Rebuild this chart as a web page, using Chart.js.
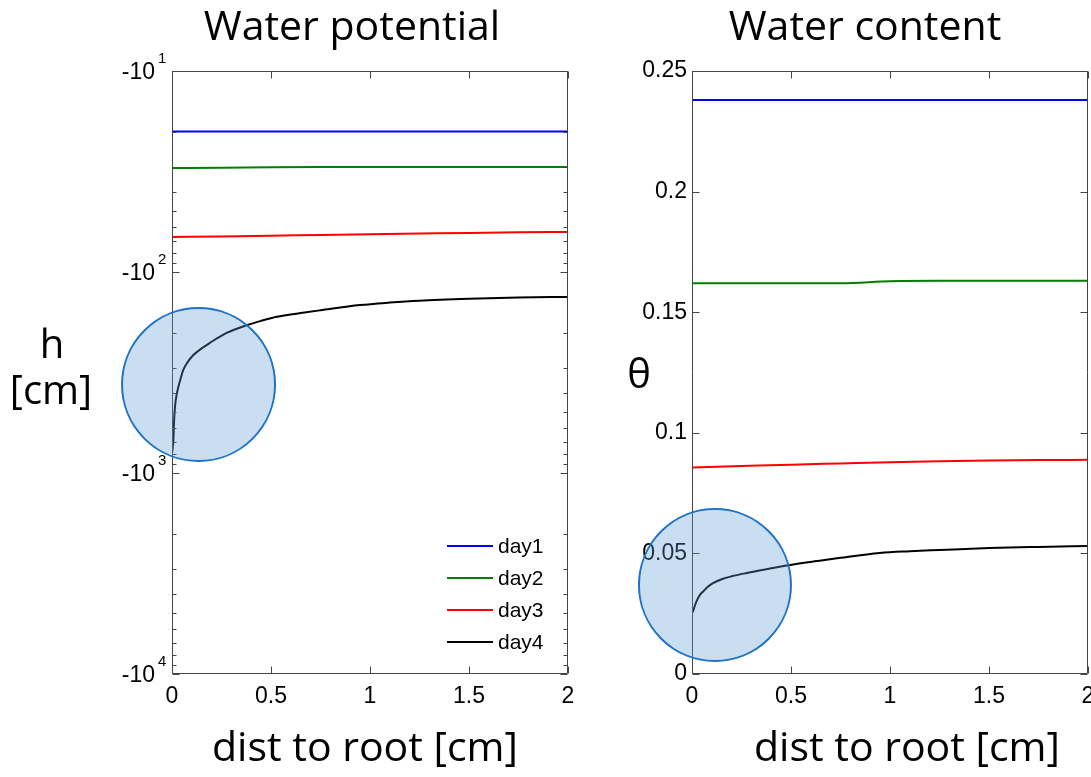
<!DOCTYPE html>
<html>
<head>
<meta charset="utf-8">
<title>Water potential / Water content</title>
<script src="https://cdn.jsdelivr.net/npm/chart.js@4.4.0/dist/chart.umd.min.js"></script>
<style>
  html, body { margin: 0; padding: 0; background: #fff; overflow: hidden; }
  #wrap { position: relative; width: 1091px; height: 777px; overflow: hidden; }
  .panel { position: absolute; top: 0; height: 777px; }
  #left { left: 0; width: 580px; }
  #right { left: 580px; width: 520px; }
</style>
</head>
<body>
<div id="wrap">
  <div class="panel" id="left"><canvas id="potential" width="580" height="777"></canvas></div>
  <div class="panel" id="right"><canvas id="content" width="520" height="777"></canvas></div>
</div>
<script>
// series names / colours
const dayLabels = ['day1', 'day2', 'day3', 'day4'];
const dayColors = ['#0000ff', '#008000', '#ff0000', '#000000'];

// distance to root [cm] for the flat profiles
const distFlat = [0, 0.25, 0.5, 0.75, 1, 1.25, 1.5, 1.75, 2];

// pressure head h [cm]
const hDay1 = [-20, -20, -20, -20, -20, -20, -20, -20, -20];
const hDay2 = [-30.4, -30.3, -30.1, -30, -30, -30, -30, -30, -30];
const hDay3 = [-67, -66.5, -66, -65.4, -64.9, -64.4, -63.9, -63.5, -63.2];
const distH4 = [0, 0.004, 0.007, 0.01, 0.015, 0.022, 0.032, 0.045, 0.057, 0.08, 0.108, 0.15, 0.192, 0.276, 0.377, 0.45, 0.53, 0.65, 0.75, 0.95, 1.1, 1.25, 1.5, 1.75, 2];
const hDay4 = [-800, -740, -685, -565, -470, -415, -373, -335, -307, -280, -259, -240, -225, -201, -184, -175, -167, -160, -155, -146, -142, -139, -136, -134, -133];

// volumetric water content theta [-]
const thetaDay1 = [0.238, 0.238, 0.238, 0.238, 0.238, 0.238, 0.238, 0.238, 0.238];
const thetaDay2 = [0.162, 0.162, 0.162, 0.162, 0.1628, 0.163, 0.163, 0.163, 0.163];
const thetaDay3 = [0.0856, 0.0862, 0.0868, 0.0873, 0.0878, 0.0882, 0.0885, 0.0887, 0.0888];
const distTheta4 = [0, 0.006, 0.015, 0.025, 0.04, 0.06, 0.08, 0.106, 0.15, 0.2, 0.278, 0.38, 0.495, 0.62, 0.75, 0.949, 1.1, 1.25, 1.5, 1.75, 2];
const thetaDay4 = [0.0253, 0.0262, 0.0285, 0.0305, 0.0328, 0.0345, 0.0362, 0.0377, 0.0393, 0.0405, 0.0419, 0.0435, 0.0452, 0.0467, 0.0482, 0.0502, 0.0509, 0.0514, 0.0522, 0.0527, 0.0531];

// tick positions
const distTicks = [0, 0.5, 1, 1.5, 2];
const headDecades = [1, 2, 3, 4];

Chart.defaults.font.family = '"Liberation Sans", Arial, sans-serif';
Chart.defaults.color = '#000';

const TEXT_FONT = '"Open Sans", "Noto Sans", sans-serif';
const TICK_FONT = '"Liberation Sans", Arial, sans-serif';

function series(xs, ys, i, magnitude) {
  return {
    label: dayLabels[i],
    data: xs.map((x, k) => ({ x, y: magnitude ? Math.abs(ys[k]) : ys[k] })),
    borderColor: dayColors[i],
    backgroundColor: dayColors[i],
    borderWidth: 2,
    pointRadius: 0,
    cubicInterpolationMode: 'monotone',
    fill: false
  };
}

// box around the plot with inward ticks on all four sides
const frame = {
  id: 'frame',
  afterDatasetsDraw(chart) {
    const { ctx, chartArea: a, scales: { x, y } } = chart;
    const L = Math.round(a.left) + 0.5, R = Math.round(a.right) - 0.5;
    const T = Math.round(a.top) + 0.5, B = Math.round(a.bottom) - 0.5;
    ctx.save();
    ctx.strokeStyle = '#444';
    ctx.lineWidth = 1;
    ctx.beginPath();
    ctx.rect(L, T, R - L, B - T);

    x.ticks.forEach(t => {
      const px = Math.round(x.getPixelForValue(t.value)) + 0.5;
      ctx.moveTo(px, B); ctx.lineTo(px, B - 7);
      ctx.moveTo(px, T); ctx.lineTo(px, T + 7);
    });

    const yTicks = [];
    if (y.type === 'logarithmic') {
      const lo = Math.round(Math.log10(y.min)), hi = Math.round(Math.log10(y.max));
      for (let e = lo; e <= hi; e++) {
        for (let k = 1; k <= 9; k++) {
          const v = k * Math.pow(10, e);
          if (v > y.max * 1.0001) break;
          yTicks.push({ v, major: k === 1 });
        }
      }
    } else {
      y.ticks.forEach(t => yTicks.push({ v: t.value, major: true }));
    }
    yTicks.forEach(t => {
      const py = Math.round(y.getPixelForValue(t.v)) + 0.5;
      const len = t.major ? 7 : 4;
      ctx.moveTo(L, py); ctx.lineTo(L + len, py);
      ctx.moveTo(R, py); ctx.lineTo(R - len, py);
    });
    ctx.stroke();

    // -10^n labels with a raised exponent for the log axis
    if (y.type === 'logarithmic') {
      ctx.fillStyle = '#000';
      ctx.textBaseline = 'alphabetic';
      y.ticks.forEach(t => {
        const py = y.getPixelForValue(t.value);
        const e = Math.round(Math.log10(t.value));
        ctx.font = '23px ' + TICK_FONT;
        ctx.textAlign = 'right';
        ctx.fillText('-10', a.left - 17, py + 8);
        ctx.font = '15px ' + TICK_FONT;
        ctx.textAlign = 'left';
        ctx.fillText(String(e), a.left - 14, py - 8);
      });
    }
    ctx.restore();
  }
};

// legend, highlight circle and panel texts
const overlay = {
  id: 'overlay',
  afterDraw(chart, args, opts) {
    const { ctx, chartArea: a, scales: { x, y } } = chart;
    ctx.save();

    if (opts.legend) {
      ctx.font = '21px ' + TICK_FONT;
      ctx.textBaseline = 'middle';
      ctx.textAlign = 'left';
      chart.data.datasets.forEach((ds, i) => {
        const ly = a.bottom - 128 + i * 32;
        ctx.strokeStyle = ds.borderColor;
        ctx.lineWidth = 2;
        ctx.beginPath();
        ctx.moveTo(a.right - 121, ly);
        ctx.lineTo(a.right - 75, ly);
        ctx.stroke();
        ctx.fillStyle = '#000';
        ctx.fillText(ds.label, a.right - 70, ly + 1);
      });
    }

    if (opts.circle) {
      const cx = x.getPixelForValue(opts.circle.x);
      const cy = y.getPixelForValue(opts.circle.y);
      ctx.beginPath();
      ctx.arc(cx, cy, opts.circle.r, 0, Math.PI * 2);
      ctx.fillStyle = 'rgba(91, 155, 213, 0.33)';
      ctx.fill();
      ctx.strokeStyle = '#1f72c6';
      ctx.lineWidth = 2;
      ctx.stroke();
    }

    ctx.fillStyle = '#000';
    ctx.textAlign = 'center';
    ctx.textBaseline = 'alphabetic';
    ctx.font = '41px ' + TEXT_FONT;
    ctx.fillText(opts.title, opts.titleX, 40);
    ctx.fillText(opts.xTitle, opts.xTitleX, 761);
    opts.yTitle.forEach(line => {
      ctx.font = line.size + 'px ' + TEXT_FONT;
      ctx.fillText(line.text, line.x, line.y);
    });
    ctx.restore();
  }
};

function axisX(pad) {
  return {
    type: 'linear',
    min: 0,
    max: 2,
    afterBuildTicks: s => { s.ticks = distTicks.map(v => ({ value: v })); },
    afterFit: s => { s.height = 103; s.paddingLeft = 0; s.paddingRight = 0; },
    grid: { display: false, drawTicks: false },
    border: { display: false },
    ticks: { padding: pad, font: { size: 23 }, autoSkip: false, maxRotation: 0, callback: v => String(v) }
  };
}

new Chart(document.getElementById('potential'), {
  type: 'line',
  data: {
    datasets: [
      series(distFlat, hDay1, 0, true),
      series(distFlat, hDay2, 1, true),
      series(distFlat, hDay3, 2, true),
      series(distH4, hDay4, 3, true)
    ]
  },
  options: {
    responsive: false,
    animation: false,
    devicePixelRatio: 1,
    layout: { padding: { top: 71, right: 12, bottom: 0, left: 0 } },
    plugins: {
      legend: { display: false },
      tooltip: { enabled: false },
      overlay: {
        legend: true,
        circle: { x: 0.134, y: 363, r: 76.5 },
        title: 'Water potential', titleX: 352,
        xTitle: 'dist to root [cm]', xTitleX: 365,
        yTitle: [
          { text: 'h', x: 52, y: 358, size: 40 },
          { text: '[cm]', x: 51, y: 404, size: 40 }
        ]
      }
    },
    scales: {
      x: axisX(9),
      y: {
        type: 'logarithmic',
        reverse: true,
        min: 10,
        max: 10000,
        afterBuildTicks: s => { s.ticks = headDecades.map(e => ({ value: Math.pow(10, e), major: true })); },
        afterFit: s => { s.width = 172; },
        grid: { display: false, drawTicks: false },
        border: { display: false },
        ticks: { display: false }
      }
    }
  },
  plugins: [frame, overlay]
});

new Chart(document.getElementById('content'), {
  type: 'line',
  data: {
    datasets: [
      series(distFlat, thetaDay1, 0, false),
      series(distFlat, thetaDay2, 1, false),
      series(distFlat, thetaDay3, 2, false),
      series(distTheta4, thetaDay4, 3, false)
    ]
  },
  options: {
    responsive: false,
    animation: false,
    devicePixelRatio: 1,
    layout: { padding: { top: 71, right: 12, bottom: 0, left: 0 } },
    plugins: {
      legend: { display: false },
      tooltip: { enabled: false },
      overlay: {
        legend: false,
        circle: { x: 0.116, y: 0.0369, r: 76 },
        title: 'Water content', titleX: 285,
        xTitle: 'dist to root [cm]', xTitleX: 327,
        yTitle: [
          { text: '\u03b8', x: 59, y: 388, size: 40 }
        ]
      }
    },
    scales: {
      x: axisX(9),
      y: {
        type: 'linear',
        min: 0,
        max: 0.25,
        afterFit: s => { s.width = 112; },
        grid: { display: false, drawTicks: false },
        border: { display: false },
        ticks: { padding: 5, stepSize: 0.05, autoSkip: false, font: { size: 23 }, callback: v => String(+v.toFixed(2)) }
      }
    }
  },
  plugins: [frame, overlay]
});
</script>
</body>
</html>
